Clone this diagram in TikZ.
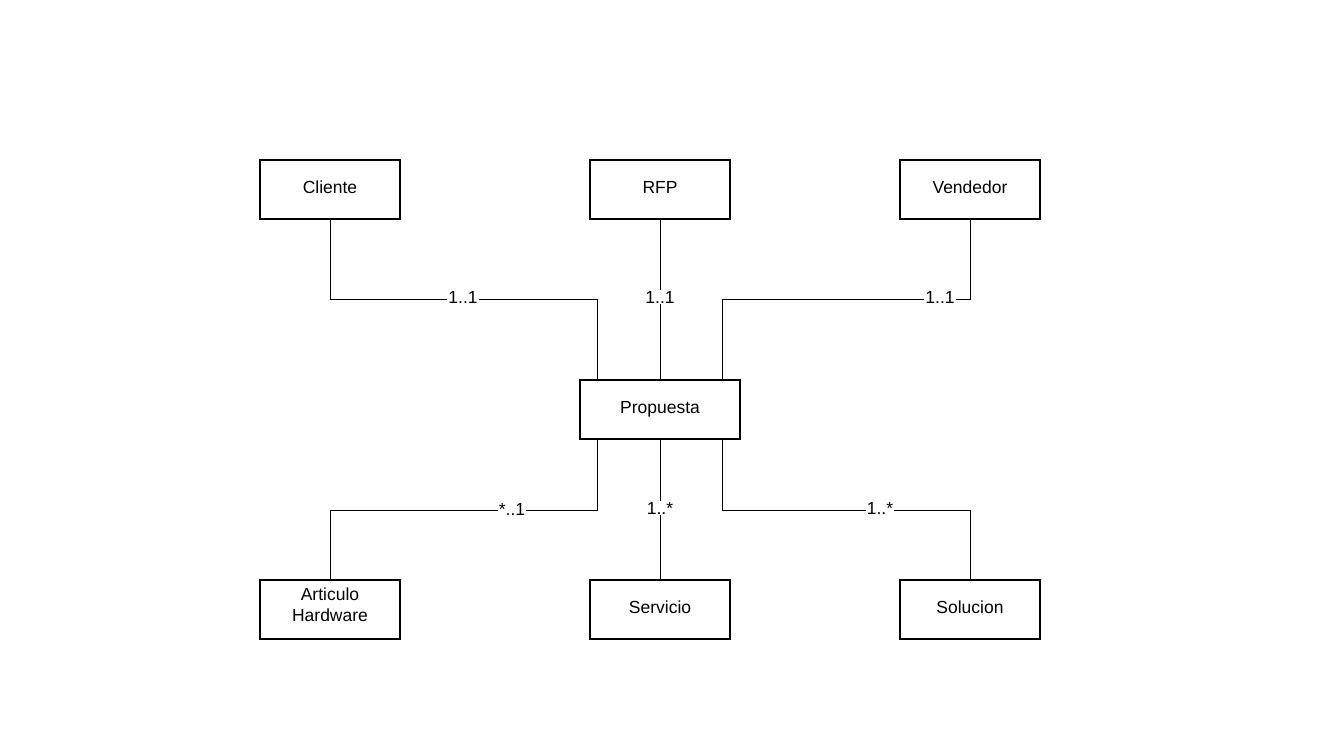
\documentclass[tikz,border=0pt]{standalone}
\usepackage{fontspec}
\setmainfont{Liberation Sans}
\begin{document}
\begin{tikzpicture}[x=1pt,y=-1pt,
  entity/.style={draw,line width=2pt,minimum width=140pt,minimum height=59pt,inner sep=0pt,text depth=4pt,align=center,font=\fontsize{17.5}{21}\selectfont},
  conn/.style={line width=1pt},
  mult/.style={fill=white,inner sep=1pt,font=\fontsize{17.5}{21}\selectfont}]
\useasboundingbox (0,0) rectangle (1323,745);
\node[entity] (cli) at (330,189.5) {Cliente};
\node[entity] (rfp) at (660,189.5) {RFP};
\node[entity] (ven) at (970,189.5) {Vendedor};
\node[entity,minimum width=160pt] (pro) at (660,409.5) {Propuesta};
\node[entity,text depth=10pt] (art) at (330,609.5) {Articulo\\Hardware};
\node[entity] (ser) at (660,609.5) {Servicio};
\node[entity] (sol) at (970,609.5) {Solucion};
\coordinate (pnl) at (597,380);
\coordinate (pnr) at (722,380);
\coordinate (psl) at (597,439);
\coordinate (psr) at (722,439);
\draw[conn] (cli.south) -- (330,299) -| (pnl);
\draw[conn] (rfp.south) -- (pro.north);
\draw[conn] (ven.south) -- (970,299) -| (pnr);
\draw[conn] (psl) -- (597,510) -| (art.north);
\draw[conn] (pro.south) -- (ser.north);
\draw[conn] (psr) -- (722,510) -| (sol.north);
\node[mult] (m1) at (463,297) {1..1};
\node[mult] (m2) at (660,297) {1..1};
\node[mult] (m3) at (940,297) {1..1};
\node[mult] (m4) at (512,509) {*..1};
\node[mult] (m5) at (660,508) {1..*};
\node[mult] (m6) at (880,508) {1..*};
\end{tikzpicture}
\end{document}
